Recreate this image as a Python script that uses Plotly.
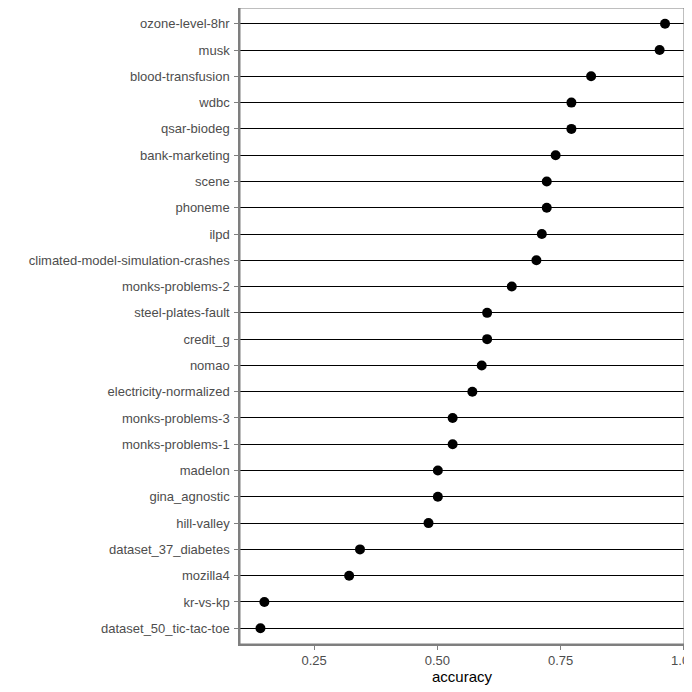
import plotly.graph_objects as go

datasets = [
    "ozone-level-8hr", "musk", "blood-transfusion", "wdbc", "qsar-biodeg",
    "bank-marketing", "scene", "phoneme", "ilpd",
    "climated-model-simulation-crashes", "monks-problems-2", "steel-plates-fault",
    "credit_g", "nomao", "electricity-normalized", "monks-problems-3",
    "monks-problems-1", "madelon", "gina_agnostic", "hill-valley",
    "dataset_37_diabetes", "mozilla4", "kr-vs-kp", "dataset_50_tic-tac-toe",
]
accuracy = [
    0.962, 0.951, 0.812, 0.772, 0.772,
    0.740, 0.722, 0.722, 0.712,
    0.701, 0.651, 0.601,
    0.601, 0.590, 0.571, 0.531,
    0.531, 0.501, 0.501, 0.482,
    0.343, 0.321, 0.149, 0.141,
]
x_ticks = [0.25, 0.50, 0.75, 1.00]
x_tick_labels = ["0.25", "0.50", "0.75", "1.00"]

# bottom-to-top order, as in the reference
cats = datasets[::-1]
vals = accuracy[::-1]

fig = go.Figure()
fig.add_trace(go.Scatter(
    x=vals, y=cats, mode="markers",
    marker=dict(color="black", size=10),
    showlegend=False, hoverinfo="x+y",
    cliponaxis=False,
))

font_family = "Liberation Sans, Arial, sans-serif"
fig.update_layout(
    width=692, height=692,
    margin=dict(l=232, r=16, t=0, b=56),
    paper_bgcolor="white", plot_bgcolor="white",
    font=dict(family=font_family),
    xaxis=dict(
        range=[0.0995, 1.0005],
        tickvals=x_ticks, ticktext=x_tick_labels,
        showgrid=False, zeroline=False,
        showline=True, linecolor="#7f7f7f", linewidth=1.5,
        ticks="outside", ticklen=4, tickcolor="#7f7f7f", tickwidth=1,
        tickfont=dict(size=13, color="#4d4d4d"),
        title=dict(text="accuracy", font=dict(size=15, color="black"), standoff=2),
        automargin=False,
    ),
    yaxis=dict(
        type="category", categoryorder="array", categoryarray=cats,
        range=[-0.6, len(cats) - 0.4],
        showgrid=True, gridcolor="black", gridwidth=1,
        zeroline=False,
        showline=True, linecolor="#7f7f7f", linewidth=1.5,
        ticks="outside", ticklen=4, tickcolor="#7f7f7f", tickwidth=1,
        tickfont=dict(size=13, color="#4d4d4d"),
        ticklabelstandoff=2,
        automargin=False,
    ),
    shapes=[dict(
        type="rect", xref="x domain", yref="y domain",
        x0=0, x1=1, y0=0, y1=1,
        line=dict(color="#7f7f7f", width=1), layer="above",
    )],
)

fig.write_html("out.html")
